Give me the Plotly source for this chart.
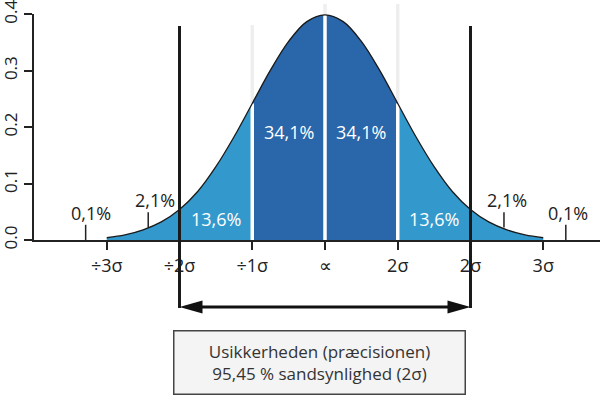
import plotly.graph_objects as go

# ---- data ----
x_sigma = [-3.0, -2.75, -2.5, -2.25, -2.0, -1.75, -1.5, -1.25, -1.0, -0.75, -0.5, -0.25,
           0.0, 0.25, 0.5, 0.75, 1.0, 1.25, 1.5, 1.75, 2.0, 2.25, 2.5, 2.75, 3.0]
density = [0.004, 0.009, 0.018, 0.032, 0.054, 0.086, 0.130, 0.183, 0.242, 0.301, 0.352, 0.387,
           0.399, 0.387, 0.352, 0.301, 0.242, 0.183, 0.130, 0.086, 0.054, 0.032, 0.018, 0.009, 0.004]

tick_vals = [-3, -2, -1, 0, 1, 2, 3]
tick_text = ["÷3σ", "÷2σ", "÷1σ", "∝", "2σ", "2σ", "3σ"]
y_tick_vals = [0.0, 0.1, 0.2, 0.3, 0.4]
y_tick_text = ["0.0", "0.1", "0.2", "0.3", "0.4"]

band_edges = [-1, 0, 1]
inner_labels = ["34,1%", "34,1%"]
inner_x = [-0.5, 0.5]
side_labels = ["13,6%", "13,6%"]
side_x = [-1.5, 1.5]
tail_labels = ["2,1%", "2,1%"]
tail_x = [-2.43, 2.46]
far_labels = ["0,1%", "0,1%"]
far_x = [-3.29, 3.31]
interval = [-2, 2]
box_lines = ["Usikkerheden (præcisionen)", "95,45 % sandsynlighed (2σ)"]

LIGHT = "#3399cc"
DARK = "#2a66aa"
INK = "#222222"
FONT = "Open Sans"
XMIN, XMAX = -4.0, 3.78
YMAX = 0.4005
PLOT_W, PLOT_H = 566, 226


def seg(lo, hi):
    xs = [x for x in x_sigma if lo <= x <= hi]
    ys = [density[x_sigma.index(x)] for x in xs]
    return xs, ys


def dens_at(x):
    return density[x_sigma.index(x)]


def px(x):
    return (x - XMIN) / (XMAX - XMIN)


fig = go.Figure()

for lo, hi, col in [(-3, -1, LIGHT), (-1, 1, DARK), (1, 3, LIGHT)]:
    xs, ys = seg(lo, hi)
    fig.add_trace(go.Scatter(x=xs, y=ys, mode="lines", fill="tozeroy",
                             fillcolor=col, line=dict(width=0, color=col, shape="spline"),
                             hoverinfo="skip", showlegend=False))

# white separators inside the fill
for e in band_edges:
    fig.add_trace(go.Scatter(x=[e, e], y=[0, dens_at(e)], mode="lines",
                             line=dict(color="white", width=3.5),
                             hoverinfo="skip", showlegend=False))

# curve outline
fig.add_trace(go.Scatter(x=x_sigma, y=density, mode="lines",
                         line=dict(color="#1a1a1a", width=1.3, shape="spline"),
                         hoverinfo="skip", showlegend=False))

shapes = []
# faint guide lines above the curve
for e, top in zip(band_edges, [0.951, 1.044, 1.044]):
    shapes.append(dict(type="line", xref="x", yref="paper", x0=e, x1=e, y0=0, y1=top,
                       line=dict(color="#eeeeee", width=3.5), layer="below"))

# pointer ticks for tail labels
for x in tail_x:
    shapes.append(dict(type="line", xref="x", yref="y", x0=x, x1=x, y0=0.022, y1=0.049,
                       line=dict(color=INK, width=1.5)))
for x in far_x:
    shapes.append(dict(type="line", xref="x", yref="y", x0=x, x1=x, y0=0, y1=0.027,
                       line=dict(color=INK, width=1.5)))

# big interval lines
for x in interval:
    shapes.append(dict(type="line", xref="x", yref="paper", x0=x, x1=x, y0=-0.301, y1=0.947,
                       line=dict(color="#1a1a1a", width=3)))

# double arrow
ay = -0.296
hl = 23 / PLOT_W
hh = 6.5 / PLOT_H
xl, xr = px(interval[0]), px(interval[1])
shapes.append(dict(type="line", xref="paper", yref="paper", x0=xl + hl * 0.8, x1=xr - hl * 0.8,
                   y0=ay, y1=ay, line=dict(color="#111111", width=3)))
shapes.append(dict(type="path", xref="paper", yref="paper",
                   path=f"M{xl},{ay} L{xl + hl},{ay + hh} L{xl + hl},{ay - hh} Z",
                   fillcolor="#111111", line=dict(width=0)))
shapes.append(dict(type="path", xref="paper", yref="paper",
                   path=f"M{xr},{ay} L{xr - hl},{ay + hh} L{xr - hl},{ay - hh} Z",
                   fillcolor="#111111", line=dict(width=0)))

annotations = []
for t, x in zip(inner_labels, inner_x):
    annotations.append(dict(x=x, y=0.191, xref="x", yref="y", text=t, showarrow=False,
                            font=dict(family=FONT, size=18, color="white")))
for t, x in zip(side_labels, side_x):
    annotations.append(dict(x=x, y=0.037, xref="x", yref="y", text=t, showarrow=False,
                            font=dict(family=FONT, size=18, color="white")))
for t, x in zip(tail_labels, [-2.34, 2.50]):
    annotations.append(dict(x=x, y=0.071, xref="x", yref="y", text=t, showarrow=False,
                            font=dict(family=FONT, size=18, color=INK)))
for t, x in zip(far_labels, [-3.22, 3.34]):
    annotations.append(dict(x=x, y=0.048, xref="x", yref="y", text=t, showarrow=False,
                            font=dict(family=FONT, size=18, color=INK)))

annotations.append(dict(x=-0.08, y=-0.544, xref="x", yref="paper", text="<br>".join(box_lines),
                        xanchor="center", yanchor="middle",
                        showarrow=False, align="center", width=290, height=62,
                        bgcolor="#f4f4f4", bordercolor="#444444", borderwidth=1.5, borderpad=0,
                        font=dict(family=FONT, size=17, color="#333333")))

fig.update_layout(
    width=600, height=396,
    margin=dict(l=34, r=0, t=14, b=156),
    plot_bgcolor="white", paper_bgcolor="white",
    font=dict(family=FONT, color=INK),
    shapes=shapes, annotations=annotations,
    showlegend=False,
    xaxis=dict(range=[XMIN, XMAX], showgrid=False, zeroline=False, showline=True,
               linecolor=INK, linewidth=2, ticks="outside", ticklen=8, tickwidth=1.5,
               tickcolor=INK, tickvals=tick_vals, ticktext=tick_text,
               tickfont=dict(family=FONT, size=18, color=INK), automargin=False),
    yaxis=dict(range=[0, YMAX], showgrid=False, zeroline=False, showline=True,
               linecolor=INK, linewidth=2, ticks="outside", ticklen=8, tickwidth=1.5,
               tickcolor=INK, tickvals=y_tick_vals, ticktext=y_tick_text, tickangle=-90,
               ticklabeloverflow="allow",
               tickfont=dict(family=FONT, size=17, color=INK), automargin=False),
)

fig.write_html("out.html", post_script="document.body.style.margin='0';",
               config={"displayModeBar": False})
